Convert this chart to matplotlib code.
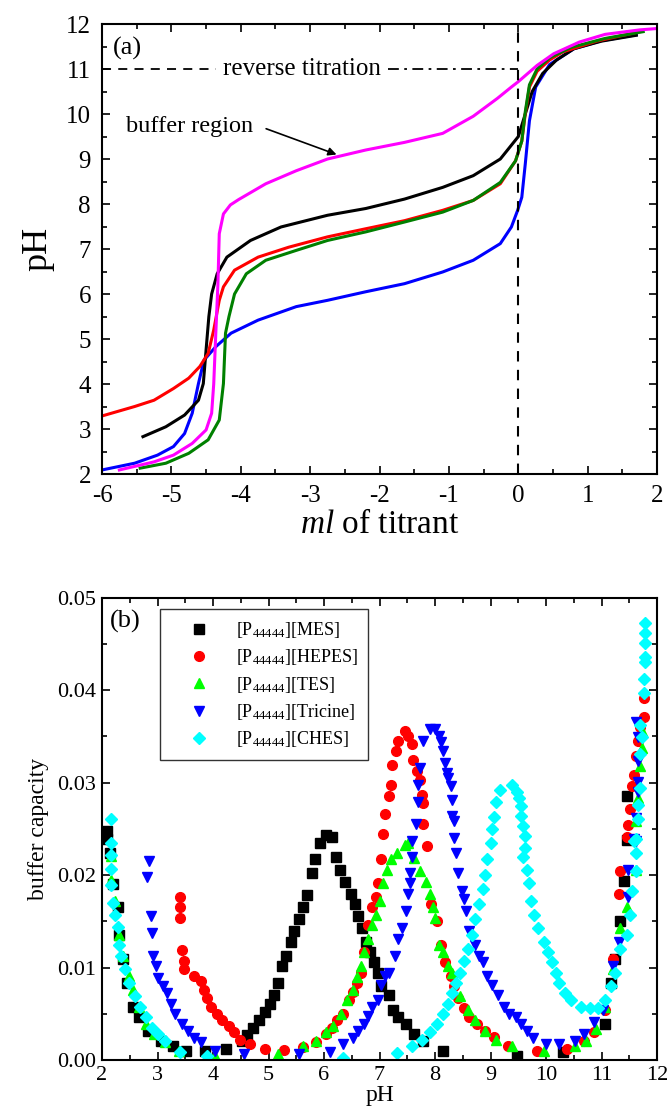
import numpy as np
import matplotlib
matplotlib.use("Agg")
import matplotlib.pyplot as plt
from matplotlib.ticker import MultipleLocator

plt.rcParams['font.family'] = ['Liberation Serif', 'DejaVu Serif']
plt.rcParams['mathtext.fontset'] = 'custom'
plt.rcParams['mathtext.rm'] = 'Liberation Serif'
plt.rcParams['mathtext.it'] = 'Liberation Serif:italic'
plt.rcParams['axes.unicode_minus'] = False

# ---- panel (a): titration curves (ml of titrant, pH) ----
mag_x = [-5.75, -5.25, -4.97, -4.70, -4.50, -4.42, -4.39, -4.36, -4.33, -4.31, -4.25, -4.15, -4.03, -3.64,
         -3.2, -2.75, -2.2, -1.64, -1.09, -0.65, -0.3, -0.1, 0.0, 0.27, 0.51, 0.88, 1.25, 1.75, 2.0]
mag_y = [2.09, 2.27, 2.42, 2.68, 2.98, 3.35, 4.0, 5.13, 6.2, 7.34, 7.78, 7.98, 8.1, 8.45,
         8.74, 9.0, 9.2, 9.37, 9.57, 9.95, 10.35, 10.6, 10.72, 11.08, 11.34, 11.6, 11.77, 11.87, 11.9]

blk_x = [-5.41, -5.08, -4.81, -4.61, -4.54, -4.50, -4.46, -4.42, -4.34, -4.2, -3.86, -3.42, -2.75, -2.2,
         -1.64, -1.09, -0.65, -0.26, 0.0, 0.1, 0.2, 0.35, 0.55, 0.8, 1.2, 1.7]
blk_y = [2.83, 3.05, 3.31, 3.64, 4.01, 4.76, 5.5, 6.0, 6.45, 6.82, 7.19, 7.49, 7.75, 7.9,
         8.11, 8.37, 8.63, 9.0, 9.5, 10.0, 10.5, 10.9, 11.2, 11.45, 11.62, 11.75]

red_x = [-6.0, -5.53, -5.25, -4.97, -4.75, -4.59, -4.47, -4.39, -4.31, -4.25, -4.09, -3.75, -3.31, -2.75,
         -2.2, -1.64, -1.09, -0.65, -0.26, -0.04, 0.05, 0.1, 0.16, 0.27, 0.45, 0.64, 1.13, 1.75]
red_y = [3.29, 3.5, 3.64, 3.9, 4.13, 4.39, 4.68, 5.2, 5.86, 6.16, 6.53, 6.82, 7.04, 7.27,
         7.45, 7.63, 7.86, 8.08, 8.45, 8.96, 9.4, 10.0, 10.6, 10.95, 11.2, 11.38, 11.62, 11.83]

grn_x = [-5.45, -5.08, -4.75, -4.47, -4.31, -4.25, -4.22, -4.17, -4.09, -3.92, -3.64, -3.2, -2.75, -2.2,
         -1.64, -1.09, -0.65, -0.26, -0.04, 0.05, 0.1, 0.16, 0.27, 0.45, 0.76, 1.25, 1.8]
grn_y = [2.13, 2.24, 2.46, 2.76, 3.2, 4.01, 5.13, 5.5, 6.0, 6.45, 6.75, 6.97, 7.19, 7.38,
         7.6, 7.82, 8.08, 8.48, 8.96, 9.4, 10.05, 10.65, 11.0, 11.25, 11.48, 11.68, 11.83]

blu_x = [-6.0, -5.53, -5.2, -4.97, -4.81, -4.7, -4.61, -4.53, -4.36, -4.14, -3.75, -3.2, -2.75, -2.2,
         -1.64, -1.09, -0.65, -0.26, -0.1, -0.01, 0.05, 0.1, 0.16, 0.25, 0.45, 0.8, 1.2, 1.7]
blu_y = [2.09, 2.24, 2.42, 2.61, 2.9, 3.35, 4.01, 4.53, 4.83, 5.13, 5.42, 5.72, 5.86, 6.05,
         6.23, 6.49, 6.75, 7.12, 7.49, 7.86, 8.15, 8.89, 9.85, 10.6, 11.1, 11.45, 11.63, 11.76]

# ---- panel (b): buffer capacity vs pH ----
mes_x = [2.09, 2.09, 2.14, 2.2, 2.28, 2.31, 2.38, 2.45, 2.55, 2.66, 2.83, 3.07, 3.28, 3.52, 3.86, 4.24,
         4.52, 4.62, 4.72, 4.83, 4.93, 5.03, 5.1, 5.17, 5.24, 5.31, 5.41, 5.45, 5.55, 5.62, 5.69, 5.79,
         5.83, 5.93, 6.03, 6.14, 6.21, 6.28, 6.38, 6.48, 6.55, 6.62, 6.69, 6.76, 6.83, 6.9, 6.97, 7.03,
         7.17, 7.24, 7.34, 7.48, 7.62, 7.79, 8.14, 9.48, 10.31, 11.07, 11.17, 11.24, 11.34, 11.41,
         11.45, 11.45]
mes_y = [0.0248, 0.0239, 0.0224, 0.019, 0.0165, 0.0135, 0.0109, 0.0083, 0.0057, 0.0046, 0.0031, 0.002,
         0.0015, 0.001, 0.001, 0.0012, 0.002, 0.0027, 0.0035, 0.0043, 0.0052, 0.0061, 0.007, 0.0083,
         0.0102, 0.0113, 0.0128, 0.0139, 0.0153, 0.0165, 0.0178, 0.0202, 0.0217, 0.0235, 0.0243, 0.0241,
         0.022, 0.0206, 0.0193, 0.018, 0.0169, 0.0156, 0.0143, 0.0128, 0.0117, 0.0106, 0.0094, 0.008,
         0.007, 0.0054, 0.0046, 0.0039, 0.0028, 0.002, 0.001, 0.0004, 0.0009, 0.0039, 0.0083, 0.0109,
         0.015, 0.0194, 0.0238, 0.0286]

hep_x = [3.4, 3.4, 3.4, 3.45, 3.48, 3.48, 3.66, 3.79, 3.83, 3.9, 3.97, 4.07, 4.17, 4.28, 4.38, 4.48,
         4.66, 4.93, 5.28, 5.62, 5.86, 6.03, 6.14, 6.24, 6.34, 6.45, 6.52, 6.59, 6.66, 6.72, 6.79, 6.86,
         6.93, 6.97, 7.03, 7.07, 7.1, 7.17, 7.21, 7.22, 7.29, 7.34, 7.45, 7.52, 7.59, 7.61, 7.68, 7.72,
         7.76, 7.79, 7.79, 7.86, 7.93, 8.03, 8.1, 8.17, 8.28, 8.34, 8.41, 8.52, 8.62, 8.76, 8.9, 9.07,
         9.31, 9.83, 10.38, 10.69, 10.86, 11.07, 11.21, 11.31, 11.34, 11.45, 11.48, 11.52, 11.55, 11.59,
         11.62, 11.66, 11.69, 11.76, 11.76]
hep_y = [0.0176, 0.0165, 0.0154, 0.0119, 0.0107, 0.0098, 0.0091, 0.0085, 0.0076, 0.0067, 0.0057, 0.005,
         0.0043, 0.0037, 0.003, 0.0022, 0.0017, 0.0012, 0.0011, 0.0014, 0.0019, 0.0028, 0.0035, 0.0043,
         0.005, 0.0065, 0.0074, 0.0083, 0.0094, 0.0117, 0.0146, 0.0165, 0.0176, 0.0191, 0.0217, 0.0244,
         0.0266, 0.0286, 0.0297, 0.0319, 0.0334, 0.0345, 0.0356, 0.0351, 0.0342, 0.0324, 0.0313, 0.0303,
         0.0287, 0.0278, 0.0255, 0.0232, 0.0169, 0.015, 0.0124, 0.0106, 0.0091, 0.008, 0.0067, 0.0056,
         0.0046, 0.0039, 0.0031, 0.0025, 0.0015, 0.001, 0.0012, 0.002, 0.003, 0.0054, 0.0109, 0.018,
         0.0204, 0.0241, 0.0254, 0.0272, 0.0296, 0.0308, 0.0329, 0.0345, 0.036, 0.0371, 0.0392]

tes_x = [2.16, 2.17, 2.24, 2.31, 2.38, 2.48, 2.55, 2.66, 2.79, 2.93, 3.14, 3.38, 4.03, 5.17, 5.62, 5.86,
         6.03, 6.17, 6.31, 6.41, 6.52, 6.59, 6.66, 6.72, 6.79, 6.86, 6.93, 7.0, 7.07, 7.14, 7.21, 7.31,
         7.45, 7.52, 7.62, 7.72, 7.83, 7.9, 7.97, 8.0, 8.07, 8.14, 8.24, 8.31, 8.45, 8.59, 8.72, 8.9,
         9.1, 9.38, 9.97, 10.52, 10.72, 10.9, 11.07, 11.21, 11.34, 11.45, 11.62, 11.62, 11.66, 11.69,
         11.72, 11.72]
tes_y = [0.0221, 0.0195, 0.0172, 0.0135, 0.0113, 0.0091, 0.0076, 0.0057, 0.0039, 0.0028, 0.0019, 0.001,
         0.0004, 0.0006, 0.0015, 0.002, 0.003, 0.0037, 0.005, 0.0065, 0.0076, 0.009, 0.0102, 0.0117,
         0.0131, 0.0146, 0.0157, 0.0172, 0.0191, 0.0206, 0.0217, 0.0224, 0.0233, 0.0235, 0.0219, 0.0204,
         0.0193, 0.018, 0.0165, 0.0154, 0.0124, 0.0117, 0.0102, 0.0094, 0.0069, 0.0054, 0.0043, 0.0031,
         0.0022, 0.0015, 0.001, 0.0015, 0.002, 0.0033, 0.0057, 0.0098, 0.0143, 0.0165, 0.0206, 0.0258,
         0.0283, 0.0318, 0.0338, 0.0356]

tri_x = [2.85, 2.81, 2.88, 2.9, 2.92, 2.97, 3.0, 3.1, 3.17, 3.24, 3.31, 3.45, 3.55, 3.66, 3.79, 4.03,
         4.55, 5.55, 6.1, 6.34, 6.52, 6.62, 6.72, 6.79, 6.86, 6.97, 7.03, 7.1, 7.17, 7.28, 7.34, 7.41,
         7.48, 7.52, 7.55, 7.55, 7.59, 7.59, 7.66, 7.69, 7.69, 7.72, 7.79, 7.9, 8.0, 8.07, 8.1, 8.14,
         8.17, 8.21, 8.24, 8.28, 8.31, 8.31, 8.34, 8.34, 8.38, 8.41, 8.48, 8.52, 8.55, 8.62, 8.72, 8.79,
         8.86, 8.93, 9.03, 9.14, 9.24, 9.34, 9.45, 9.55, 9.66, 9.76, 10.0, 10.24, 10.52, 10.69, 10.86,
         11.03, 11.21, 11.31, 11.48, 11.48, 11.59, 11.62, 11.62, 11.66, 11.66, 11.66, 11.66, 11.62]
tri_y = [0.0215, 0.0198, 0.0156, 0.0137, 0.0113, 0.0102, 0.0089, 0.008, 0.0072, 0.0061, 0.005, 0.0039,
         0.0031, 0.0024, 0.0019, 0.001, 0.0006, 0.0006, 0.0009, 0.0017, 0.0024, 0.0031, 0.0039, 0.0048,
         0.0057, 0.0065, 0.0081, 0.0091, 0.0094, 0.0113, 0.0131, 0.0143, 0.0161, 0.018, 0.0191, 0.0202,
         0.022, 0.0237, 0.0255, 0.0279, 0.0297, 0.0316, 0.0345, 0.0358, 0.0358, 0.0351, 0.0344, 0.0334,
         0.0321, 0.031, 0.0305, 0.0296, 0.0281, 0.0264, 0.0259, 0.024, 0.0224, 0.0202, 0.0183, 0.0174,
         0.0161, 0.0139, 0.0124, 0.0113, 0.0106, 0.0091, 0.0081, 0.007, 0.0057, 0.005, 0.0046, 0.0039,
         0.0031, 0.0024, 0.0017, 0.0017, 0.002, 0.0028, 0.0041, 0.0054, 0.0102, 0.0128, 0.0176, 0.0206,
         0.0239, 0.0237, 0.0262, 0.029, 0.0301, 0.0323, 0.0349, 0.0366]

che_x = [2.16, 2.16, 2.16, 2.17, 2.17, 2.2, 2.24, 2.28, 2.31, 2.34, 2.41, 2.48, 2.59, 2.69, 2.79, 2.9,
         3.0, 3.14, 3.41, 3.9, 6.34, 7.31, 7.59, 7.76, 7.9, 8.03, 8.14, 8.24, 8.31, 8.38, 8.45, 8.52,
         8.59, 8.66, 8.72, 8.79, 8.86, 8.9, 8.93, 9.0, 9.03, 9.07, 9.1, 9.17, 9.38, 9.48, 9.52, 9.55,
         9.55, 9.59, 9.62, 9.62, 9.59, 9.66, 9.69, 9.72, 9.79, 9.86, 9.97, 10.03, 10.1, 10.17, 10.24,
         10.34, 10.45, 10.62, 10.79, 10.93, 11.07, 11.17, 11.24, 11.34, 11.45, 11.52, 11.55, 11.62, 11.62,
         11.62, 11.66, 11.59, 11.66, 11.69, 11.69, 11.72, 11.69, 11.76, 11.76, 11.79, 11.79, 11.79, 11.79,
         11.79]
che_y = [0.0261, 0.0235, 0.0222, 0.0207, 0.0189, 0.017, 0.0157, 0.0144, 0.0124, 0.0113, 0.0098, 0.0083,
         0.0069, 0.0057, 0.0046, 0.0035, 0.0028, 0.002, 0.0009, 0.0004, 0.0002, 0.0007, 0.0015, 0.0022,
         0.003, 0.0039, 0.005, 0.0061, 0.0072, 0.0083, 0.0094, 0.0107, 0.012, 0.0135, 0.0152, 0.0169,
         0.0185, 0.02, 0.0217, 0.0235, 0.025, 0.0263, 0.0279, 0.0292, 0.0297, 0.029, 0.0283, 0.0275,
         0.0264, 0.0253, 0.0242, 0.0229, 0.022, 0.0206, 0.0191, 0.0172, 0.0157, 0.0143, 0.0128, 0.0117,
         0.0106, 0.0094, 0.0083, 0.0072, 0.0065, 0.0057, 0.0056, 0.0056, 0.0065, 0.008, 0.0094, 0.012,
         0.0135, 0.0157, 0.0183, 0.0204, 0.0224, 0.0239, 0.0261, 0.0237, 0.0276, 0.0294, 0.0331, 0.0349,
         0.0362, 0.0397, 0.0412, 0.043, 0.0436, 0.0451, 0.0462, 0.0473]

names = ['MES', 'HEPES', 'TES', 'Tricine', 'CHES']


def style_axes(ax, fs, pad):
    ax.tick_params(which='both', direction='in', top=True, right=True, labelsize=fs, width=1.2, pad=pad)
    ax.tick_params(which='major', length=6)
    ax.tick_params(which='minor', length=3.5)
    for s in ax.spines.values():
        s.set_linewidth(1.5)


fig = plt.figure(figsize=(6.68, 11.07), dpi=100)

# panel (a)
ax1 = fig.add_axes([0.1527, 0.5718, 0.831, 0.4065])
lw = 2.2
ax1.plot(blu_x, blu_y, color='#0000ff', lw=lw)
ax1.plot(blk_x, blk_y, color='black', lw=lw)
ax1.plot(red_x, red_y, color='#ff0000', lw=lw)
ax1.plot(grn_x, grn_y, color='#008000', lw=lw)
ax1.plot(mag_x, mag_y, color='#ff00ff', lw=lw)
ax1.axvline(0, color='black', ls=(0, (5, 4)), lw=1.5)
ax1.plot([-6, -4.36], [11, 11], color='black', ls=(0, (5, 4)), lw=1.3)
ax1.plot([-1.88, 0], [11, 11], color='black', ls=(0, (6, 3, 1.5, 3)), lw=1.3)
ax1.text(-3.12, 11.0, 'reverse titration', ha='center', va='center', fontsize=18)
ax1.text(-5.85, 11.45, '(a)', ha='left', va='center', fontsize=19)
ax1.annotate('buffer region', xy=(-2.62, 9.1), xytext=(-5.65, 9.72), fontsize=17.5,
             ha='left', va='center',
             arrowprops=dict(arrowstyle='-|>', color='black', lw=1.2,
                             shrinkA=0, shrinkB=0, mutation_scale=12,
                             relpos=(1.1, 0.4)))
ax1.set_xlim(-6, 2)
ax1.set_ylim(2, 12)
ax1.xaxis.set_major_locator(MultipleLocator(1))
ax1.xaxis.set_minor_locator(MultipleLocator(0.5))
ax1.yaxis.set_major_locator(MultipleLocator(1))
ax1.yaxis.set_minor_locator(MultipleLocator(0.5))
style_axes(ax1, 18, 8)
ax1.set_xlabel(r'$\mathit{ml}$ of titrant', fontsize=24, labelpad=2)
ax1.set_ylabel('pH', fontsize=26, labelpad=8)

# panel (b)
ax2 = fig.add_axes([0.1527, 0.0425, 0.831, 0.4175])
ms = 7
series = [(mes_x, mes_y, 's', 'black'),
          (hep_x, hep_y, 'o', '#ff0000'),
          (tes_x, tes_y, '^', '#00ff00'),
          (tri_x, tri_y, 'v', '#0000ff'),
          (che_x, che_y, 'D', '#00ffff')]
for (x, y, mk, c), nm in zip(series, names):
    size = ms - 1 if mk == 'D' else ms
    ax2.plot(x, y, ls='none', marker=mk, color=c, ms=size, mec=c,
             label=r'[P$_{44444}$][' + nm + ']')
ax2.set_xlim(2, 12)
ax2.set_ylim(0, 0.05)
ax2.xaxis.set_major_locator(MultipleLocator(1))
ax2.xaxis.set_minor_locator(MultipleLocator(0.5))
ax2.yaxis.set_major_locator(MultipleLocator(0.01))
ax2.yaxis.set_minor_locator(MultipleLocator(0.005))
ax2.yaxis.set_major_formatter(plt.FormatStrFormatter('%.2f'))
style_axes(ax2, 16, 4)
ax2.set_xlabel('pH', fontsize=17, labelpad=0)
ax2.set_ylabel('buffer capacity', fontsize=17, labelpad=6)
ax2.text(2.14, 0.0474, '(b)', ha='left', va='center', fontsize=19)
leg = ax2.legend(loc='upper left', bbox_to_anchor=(0.104, 0.975), borderaxespad=0, fontsize=13,
                 frameon=True, fancybox=False, edgecolor='#333333', framealpha=1,
                 handletextpad=0.4, labelspacing=0.4, borderpad=0.6, handlelength=3.2)
leg.get_frame().set_linewidth(1.0)

fig.savefig('out.png', dpi=100)
